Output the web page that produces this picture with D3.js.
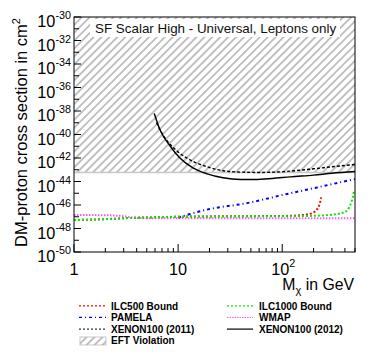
<!DOCTYPE html>
<html>
<head>
<meta charset="utf-8">
<script src="https://cdn.jsdelivr.net/npm/d3@7"></script>
<style>
  body { margin: 0; background: #fff; }
  text { font-family: "Liberation Sans", Arial, Helvetica, sans-serif; }
</style>
</head>
<body>
<svg id="chart" width="374" height="361"></svg>
<script>
/* chart values */
const massILC500 = [1, 2, 3, 4, 6, 10, 20, 50, 100, 150, 180, 200, 215, 225, 232, 236];
const sigmaILC500 = [5.2e-48, 6.3e-48, 7.4e-48, 8.3e-48, 8.9e-48, 1.0e-47, 1.07e-47, 1.12e-47, 1.17e-47, 1.35e-47, 1.7e-47, 2.3e-47, 4e-47, 8e-47, 2e-46, 4.5e-46];

const massILC1000 = [1, 2, 3, 4, 6, 10, 20, 50, 100, 200, 300, 400, 450, 470, 480, 486];
const sigmaILC1000 = [5.2e-48, 6.3e-48, 7.4e-48, 8.3e-48, 8.9e-48, 1.0e-47, 1.05e-47, 1.08e-47, 1.1e-47, 1.2e-47, 1.5e-47, 2.5e-47, 1e-46, 3e-46, 6e-46, 1.3e-45];

const massPAMELA = [10, 13, 20, 45, 100, 200, 500];
const sigmaPAMELA = [8.3e-48, 1.7e-47, 4.5e-47, 1.4e-46, 7e-46, 2.7e-45, 1.6e-44];

const massWMAP = [1, 2, 3, 4, 5, 10, 100, 500];
const sigmaWMAP = [1.4e-47, 1.35e-47, 1.1e-47, 8e-48, 7.6e-48, 7.6e-48, 7.6e-48, 7.6e-48];

const massXe2011 = [6.2, 6.7, 7.5, 8.5, 10.4, 14, 19, 27, 40, 60, 100, 200, 300, 500];
const sigmaXe2011 = [1e-39, 2.5e-40, 5e-41, 1.26e-41, 2.5e-42, 5e-43, 1.8e-43, 8.3e-44, 6.3e-44, 5.9e-44, 6.8e-44, 1.2e-43, 1.8e-43, 2.8e-43];

const massXe2012 = [5.9, 6.7, 8.4, 10.4, 14, 19, 27, 40, 55, 80, 120, 200, 300, 500];
const sigmaXe2012 = [6.3e-39, 2.5e-40, 1e-41, 1e-42, 1.4e-43, 4.5e-44, 2.1e-44, 1.5e-44, 1.48e-44, 1.8e-44, 2.5e-44, 3.5e-44, 5e-44, 7e-44];

const massEFT = [1, 500];
const sigmaEFT = [5.9e-44, 5.9e-44];

const yTickExps = d3.range(-50, -29);          // one tick per decade
const yLabelExps = d3.range(-50, -29, 2);      // labelled every two decades
const xLabelValues = [1, 10, 100];
const xLabelBase = ["1", "10", "10"];
const xLabelSup = ["", "", "2"];

const titleText = "SF Scalar High - Universal, Leptons only";
const legendNames = ["ILC500 Bound", "ILC1000 Bound", "PAMELA", "WMAP", "XENON100 (2011)", "XENON100 (2012)", "EFT Violation"];

/* layout */
const plotLeft = 74, plotRight = 355, plotTop = 17, plotBottom = 252;
const svg = d3.select('#chart');

const x = d3.scaleLog().domain([1, 500]).range([plotLeft, plotRight]);
const y = d3.scaleLog().domain([1e-50, 1e-30]).range([plotBottom, plotTop]);

const defs = svg.append('defs');
defs.append('clipPath').attr('id', 'plotclip')
    .append('rect').attr('x', plotLeft).attr('y', plotTop)
    .attr('width', plotRight - plotLeft).attr('height', plotBottom - plotTop);

// "/" hatching for the EFT region
const hatch = defs.append('pattern')
    .attr('id', 'hatch')
    .attr('patternUnits', 'userSpaceOnUse')
    .attr('width', 5.6).attr('height', 5.6)
    .attr('patternTransform', 'rotate(45)');
hatch.append('line')
    .attr('x1', 2.8).attr('y1', -1).attr('x2', 2.8).attr('y2', 7)
    .attr('stroke', '#333').attr('stroke-width', 0.6);

const plot = svg.append('g').attr('clip-path', 'url(#plotclip)');

// EFT violation area
let eftData = massEFT.map((m, i) => ({m: m, s: sigmaEFT[i]}));
plot.append('path')
    .datum(eftData)
    .attr('d', d3.area().x(d => x(d.m)).y0(y(1e-30)).y1(d => y(d.s)))
    .attr('fill', 'url(#hatch)');
plot.append('path')
    .datum(eftData)
    .attr('d', d3.line().x(d => x(d.m)).y(d => y(d.s)))
    .attr('fill', 'none').attr('stroke', '#c8c8c8').attr('stroke-width', 1.5);

// title box
svg.append('rect').attr('x', 90).attr('y', 19).attr('width', 250).attr('height', 18).attr('fill', '#fff');
svg.append('text').attr('x', 95).attr('y', 33).attr('font-size', 13.4).attr('fill', '#111').text(titleText);

/* series styles */
const series = [
    {mass: massWMAP, sigma: sigmaWMAP, color: '#ff55ff', width: 2, dash: '1.5,1.5'},
    {mass: massPAMELA, sigma: sigmaPAMELA, color: '#0000ff', width: 2, dash: '3,3,1,3'},
    {mass: massILC500, sigma: sigmaILC500, color: '#ff0000', width: 2, dash: '2,2'},
    {mass: massILC1000, sigma: sigmaILC1000, color: '#00ee00', width: 2, dash: '2,2'},
    {mass: massXe2011, sigma: sigmaXe2011, color: '#000', width: 1.4, dash: '3,2'},
    {mass: massXe2012, sigma: sigmaXe2012, color: '#000', width: 1.4, dash: null},
];

const line = d3.line().x(d => x(d[0])).y(d => y(d[1])).curve(d3.curveMonotoneX);
series.forEach(s => {
    plot.append('path')
        .datum(s.mass.map((m, i) => [m, s.sigma[i]]))
        .attr('d', line)
        .attr('fill', 'none')
        .attr('stroke', s.color)
        .attr('stroke-width', s.width)
        .attr('stroke-dasharray', s.dash);
});

/* frame and ticks */
const axes = svg.append('g').attr('stroke', '#000').attr('stroke-width', 1);
axes.append('rect').attr('x', plotLeft).attr('y', plotTop)
    .attr('width', plotRight - plotLeft).attr('height', plotBottom - plotTop).attr('fill', 'none');

let xTicks = [];
[1, 10, 100].forEach(d => d3.range(1, 10).forEach(k => { if (k * d <= 500) xTicks.push(k * d); }));
xTicks.forEach(v => {
    let len = xLabelValues.includes(v) ? 8 : 4;
    axes.append('line').attr('x1', x(v)).attr('x2', x(v)).attr('y1', plotBottom).attr('y2', plotBottom - len);
});
yTickExps.forEach(e => {
    let len = e % 2 === 0 ? 7 : 5;
    axes.append('line').attr('x1', plotLeft).attr('x2', plotLeft + len)
        .attr('y1', y(Math.pow(10, e))).attr('y2', y(Math.pow(10, e)));
});

// y labels 10^e
yLabelExps.forEach(e => {
    let t = svg.append('text')
        .attr('x', 71).attr('y', y(Math.pow(10, e)) + 10)
        .attr('text-anchor', 'end').attr('font-size', 16.3);
    t.append('tspan').text('10');
    t.append('tspan').attr('dy', -8).attr('font-size', 10.8).text(e);
});

// x labels
xLabelValues.forEach((v, i) => {
    let t = svg.append('text')
        .attr('x', x(v) + (xLabelSup[i] ? 1 : 0)).attr('y', 275)
        .attr('text-anchor', 'middle').attr('font-size', 16.3);
    t.append('tspan').text(xLabelBase[i]);
    if (xLabelSup[i]) t.append('tspan').attr('dy', -8).attr('font-size', 10.8).text(xLabelSup[i]);
});

// axis titles
let xt = svg.append('text').attr('x', 354).attr('y', 290).attr('text-anchor', 'end').attr('font-size', 15.8);
xt.append('tspan').text('M');
xt.append('tspan').attr('dy', 4).attr('font-size', 11).text('χ');
xt.append('tspan').attr('dy', -4).text(' in GeV');

let yt = svg.append('text')
    .attr('transform', 'translate(27,18) rotate(-90)')
    .attr('text-anchor', 'end').attr('font-size', 16.5);
yt.append('tspan').text('DM-proton cross section in cm');
yt.append('tspan').attr('dy', -7).attr('font-size', 11).text('2');

/* legend */
const legendRows = [309.5, 321, 332.7, 344.4];
const legendCols = [[79, 106, 111], [227, 253, 259]];
const legendItems = [
    {name: legendNames[0], s: series[2], row: 0, col: 0},
    {name: legendNames[1], s: series[3], row: 0, col: 1},
    {name: legendNames[2], s: series[1], row: 1, col: 0},
    {name: legendNames[3], s: {color: '#ff55ff', width: 1, dash: '1.5,1'}, row: 1, col: 1},
    {name: legendNames[4], s: {color: '#000', width: 1, dash: '2,2'}, row: 2, col: 0},
    {name: legendNames[5], s: {color: '#000', width: 1.2, dash: null}, row: 2, col: 1},
];
const legend = svg.append('g');
legendItems.forEach(it => {
    let [x0, x1, xt0] = legendCols[it.col];
    let yy = legendRows[it.row];
    legend.append('line')
        .attr('x1', x0).attr('x2', x1).attr('y1', yy - 3.6).attr('y2', yy - 3.6)
        .attr('stroke', it.s.color).attr('stroke-width', Math.min(it.s.width, 1.2))
        .attr('stroke-dasharray', it.s.dash);
    legend.append('text').attr('x', xt0).attr('y', yy)
        .attr('font-size', 10).attr('font-weight', 'bold').text(it.name);
});
legend.append('rect')
    .attr('x', 80).attr('y', 337).attr('width', 26).attr('height', 8)
    .attr('fill', 'url(#hatch)').attr('stroke', '#bbb').attr('stroke-width', 0.8);
legend.append('text').attr('x', 111).attr('y', legendRows[3])
    .attr('font-size', 10).attr('font-weight', 'bold').text(legendNames[6]);
</script>
</body>
</html>
